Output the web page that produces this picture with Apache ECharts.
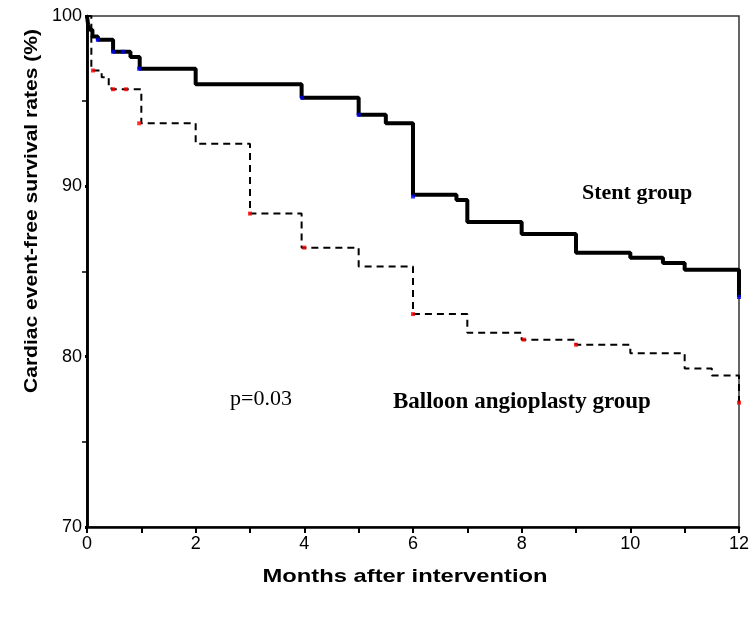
<!DOCTYPE html>
<html>
<head>
<meta charset="utf-8">
<script src="https://cdn.jsdelivr.net/npm/echarts@6/dist/echarts.min.js"></script>
<style>html,body{margin:0;padding:0;background:#fff}#c{width:752px;height:618px}</style>
</head>
<body>
<div id="c"></div>
<script>
// Kaplan-Meier step data (month of event, survival % after event)
var stentMonths = [0, 0.02, 0.05, 0.1, 0.2, 0.48, 0.8, 0.97, 2.0, 3.95, 5.0, 5.5, 6.0, 6.8, 7.0, 8.0, 9.0, 10.0, 10.6, 11.0, 12.0];
var stentSurv   = [100, 99.5, 99.2, 98.8, 98.6, 97.9, 97.6, 96.9, 96.0, 95.2, 94.2, 93.7, 89.5, 89.2, 87.9, 87.2, 86.1, 85.8, 85.5, 85.1, 83.5];

var balloonMonths = [0, 0.08, 0.27, 0.4, 0.45, 1.0, 2.0, 3.0, 3.95, 5.0, 6.0, 7.0, 8.0, 9.0, 10.0, 11.0, 11.5, 12.0];
var balloonSurv   = [100, 96.8, 96.4, 95.9, 95.7, 93.7, 92.5, 88.4, 86.4, 85.3, 82.5, 81.4, 81.0, 80.7, 80.2, 79.3, 78.9, 77.3];

// censor marks
var stentCensorMonths = [0.2, 0.48, 0.66, 0.96, 3.96, 5.0, 6.0, 12.0];
var stentCensorSurv   = [98.6, 97.9, 97.9, 96.9, 95.2, 94.2, 89.4, 83.5];
var balloonCensorMonths = [0.11, 0.48, 0.72, 0.96, 3.0, 4.0, 6.0, 8.04, 9.0, 12.0];
var balloonCensorSurv   = [96.8, 95.7, 95.7, 93.7, 88.4, 86.4, 82.5, 81.0, 80.7, 77.3];

var yTicks = [70, 80, 90, 100];
var xTicks = [0, 2, 4, 6, 8, 10, 12];

var labels = {
  stent: 'Stent group',
  balloon: 'Balloon angioplasty group',
  p: 'p=0.03',
  xTitle: 'Months after intervention',
  yTitle: 'Cardiac event-free survival rates (%)'
};

function zip(a, b) { return a.map(function (v, i) { return [v, b[i]]; }); }

var chart = echarts.init(document.getElementById('c'), null, {renderer: 'canvas'});
var sansFont = "'Liberation Sans', Arial, sans-serif";
var serifFont = "'Liberation Serif', 'Times New Roman', serif";

chart.setOption({
  animation: false,
  backgroundColor: '#fff',
  grid: { left: 87, right: 11, top: 16, bottom: 91, show: true, borderColor: '#333', borderWidth: 1.5, backgroundColor: 'transparent' },
  xAxis: {
    type: 'value', min: 0, max: 12, interval: 2,
    axisLine: { show: true, onZero: false, lineStyle: { color: '#000', width: 2.5 } },
    axisTick: { show: true, length: 6, lineStyle: { color: '#000', width: 2 } },
    minorTick: { show: true, splitNumber: 2, length: 6, lineStyle: { color: '#000', width: 2 } },
    axisLabel: { color: '#000', fontSize: 18, fontFamily: sansFont, margin: 8,
      formatter: function (v) { return xTicks.indexOf(v) >= 0 ? String(v) : ''; } },
    splitLine: { show: false }
  },
  yAxis: [{
    type: 'value', min: 70, max: 100, interval: 10,
    axisLine: { show: true, onZero: false, lineStyle: { color: '#000', width: 2.5 } },
    axisTick: { show: true, length: 2, lineStyle: { color: '#000', width: 3 } },
    minorTick: { show: true, splitNumber: 2, length: 5, lineStyle: { color: '#000', width: 1.5 } },
    axisLabel: { color: '#000', fontSize: 18, fontFamily: sansFont, margin: 5,
      formatter: function (v) { return yTicks.indexOf(v) >= 0 ? String(v) : ''; } },
    splitLine: { show: false }
  }, {
    type: 'value', min: 70, max: 100, interval: 10, position: 'right',
    axisLine: { show: true, lineStyle: { color: '#000', width: 2.5 } },
    axisTick: { show: false }, axisLabel: { show: false }, splitLine: { show: false }
  }],
  series: [
    { type: 'line', step: 'end', data: zip(balloonMonths, balloonSurv), symbol: 'none',
      lineStyle: { color: '#000', width: 2, type: [7, 5] }, z: 3 },
    { type: 'line', step: 'end', data: zip(stentMonths, stentSurv), symbol: 'none',
      lineStyle: { color: '#000', width: 4 }, z: 4 },
    { type: 'scatter', data: zip(stentCensorMonths, stentCensorSurv), symbol: 'rect', symbolSize: 4,
      itemStyle: { color: '#0000ff' }, z: 6, clip: false },
    { type: 'scatter', data: zip(balloonCensorMonths, balloonCensorSurv), symbol: 'rect', symbolSize: 4,
      itemStyle: { color: '#ff0000' }, z: 6, clip: false }
  ],
  graphic: [
    { type: 'text', left: 582, top: 182, style: { text: labels.stent, font: "bold 22px " + serifFont, fill: '#000' } },
    { type: 'text', left: 230, top: 388, style: { text: labels.p, font: "22px " + serifFont, fill: '#000' } },
    { type: 'text', left: 393, top: 391, style: { text: labels.balloon, font: "bold 23px " + serifFont, fill: '#000' } },
    { type: 'text', x: 405, y: 577, scaleX: 1.25, style: { text: labels.xTitle, font: "bold 19px " + sansFont, fill: '#000', align: 'center', verticalAlign: 'middle', textAlign: 'center', textVerticalAlign: 'middle' } },
    { type: 'text', x: 32, y: 211, rotation: Math.PI / 2, scaleX: 1.17,
      style: { text: labels.yTitle, font: "bold 18px " + sansFont, fill: '#000', align: 'center', verticalAlign: 'middle', textAlign: 'center', textVerticalAlign: 'middle' } }
  ]
});
</script>
</body>
</html>
